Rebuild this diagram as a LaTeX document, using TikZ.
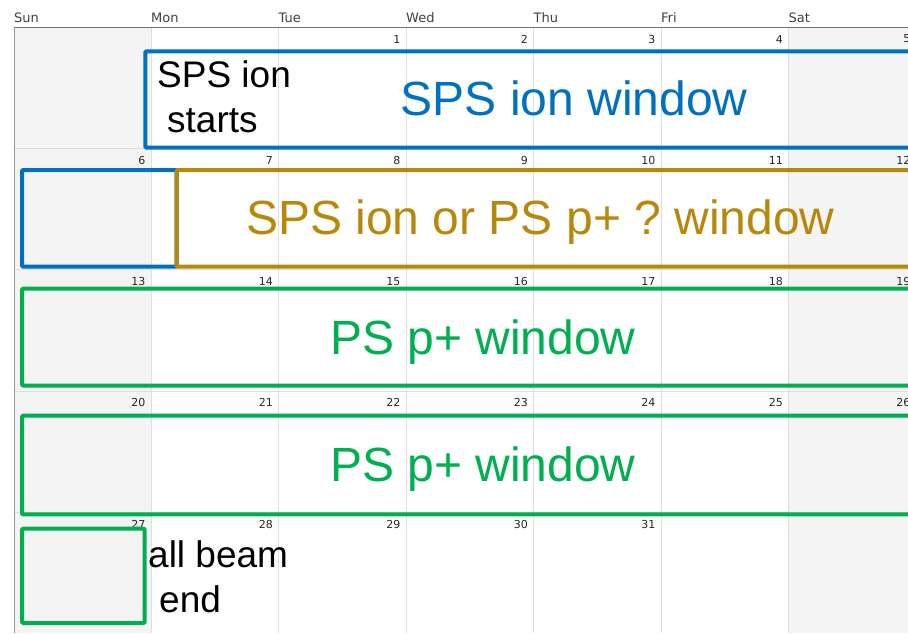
\documentclass[tikz,border=0pt]{standalone}
\usepackage{fontspec}
\setmainfont{Liberation Sans}
\newfontfamily\calfont{DejaVu Sans}
\usepackage{xcolor}
\usetikzlibrary{calc, positioning}
\frenchspacing

\definecolor{ionblue}{RGB}{0,112,192}
\definecolor{mixgold}{RGB}{184,136,11}
\definecolor{ppgreen}{RGB}{0,176,80}
\definecolor{wkendgray}{RGB}{244,244,244}
\definecolor{gridgray}{RGB}{222,222,222}

\tikzset{
    daylabel/.style={anchor=base west, inner sep=0pt, text=black!75, font=\calfont\fontsize{13}{15}\selectfont},
    datelabel/.style={anchor=east, inner sep=0pt, text=black!85, font=\calfont\fontsize{11}{13}\selectfont},
    windowbox/.style={line width=4pt, line join=round, rounded corners=1pt},
    windowtext/.style={anchor=base west, inner sep=0pt, font=\fontsize{48}{56}\selectfont},
    notetext/.style={anchor=base west, inner sep=0pt, text=black, font=\fontsize{37}{45}\selectfont}
}

\begin{document}
\begin{tikzpicture}[x=1pt, y=-1pt]
    \useasboundingbox[fill=white] (0,0) rectangle (908,633);

    % weekend columns
    \fill[wkendgray] (14,27) rectangle (151,633);
    \fill[wkendgray] (788.5,27) rectangle (916,633);

    % grid
    \foreach \x in {151, 278.5, 406, 533.5, 661, 788.5}
        \draw[gridgray] (\x,27) -- (\x,633);
    \foreach \y in {148.3, 269.6, 390.9, 512.2}
        \draw[gridgray] (14,\y) -- (916,\y);
    \draw[black!55] (14,27) -- (916,27);
    \draw[black!40] (14,27) -- (14,633);

    % day names
    \foreach \x/\d in {14/Sun, 151/Mon, 278.5/Tue, 406/Wed, 533.5/Thu, 661/Fri, 788.5/Sat}
        \node[daylabel] (day-\d) at (\x,22.5) {\d};

    % dates, month starts on a Tuesday
    \foreach \n in {1,...,31}{
        \pgfmathtruncatemacro{\c}{mod(\n+1,7)}
        \pgfmathtruncatemacro{\r}{div(\n+1,7)}
        \pgfmathsetmacro{\xr}{{151,278.5,406,533.5,661,788.5,916}[\c]-5.5}
        \pgfmathsetmacro{\yt}{27+121.3*\r+12}
        \node[datelabel] (date-\n) at (\xr,\yt) {\n};
    }

    % windows
    \draw[windowbox, ionblue] (930,51.3) -- (145.3,51.3) -- (145.3,147.7) -- (930,147.7);
    \node[windowtext, text=ionblue] (ion-win) at (400.5,115) {SPS ion window};

    \draw[windowbox, ionblue] (22,170) rectangle (176.7,266.7);
    \draw[windowbox, mixgold] (930,170) -- (176.7,170) -- (176.7,266.7) -- (930,266.7);
    \node[windowtext, text=mixgold] (mix-win) at (246,234) {SPS ion or PS p+ ? window};

    \draw[windowbox, ppgreen] (930,288.7) -- (22,288.7) -- (22,385.5) -- (930,385.5);
    \node[windowtext, text=ppgreen] (pp-win-a) at (330,354) {PS p+ window};

    \draw[windowbox, ppgreen] (930,415.7) -- (22,415.7) -- (22,514.3) -- (930,514.3);
    \node[windowtext, text=ppgreen] (pp-win-b) at (330,481) {PS p+ window};

    \draw[windowbox, ppgreen] (22,528.7) rectangle (144.7,623);

    % notes
    \node[notetext] (ion-start) at (157,87) {SPS ion};
    \node[notetext] (ion-start-b) at ($(ion-start.base west)+(10,45)$) {starts};
    \node[notetext] (beam-end) at (148,567) {all beam};
    \node[notetext] (beam-end-b) at ($(beam-end.base west)+(11,45)$) {end};
\end{tikzpicture}
\end{document}
